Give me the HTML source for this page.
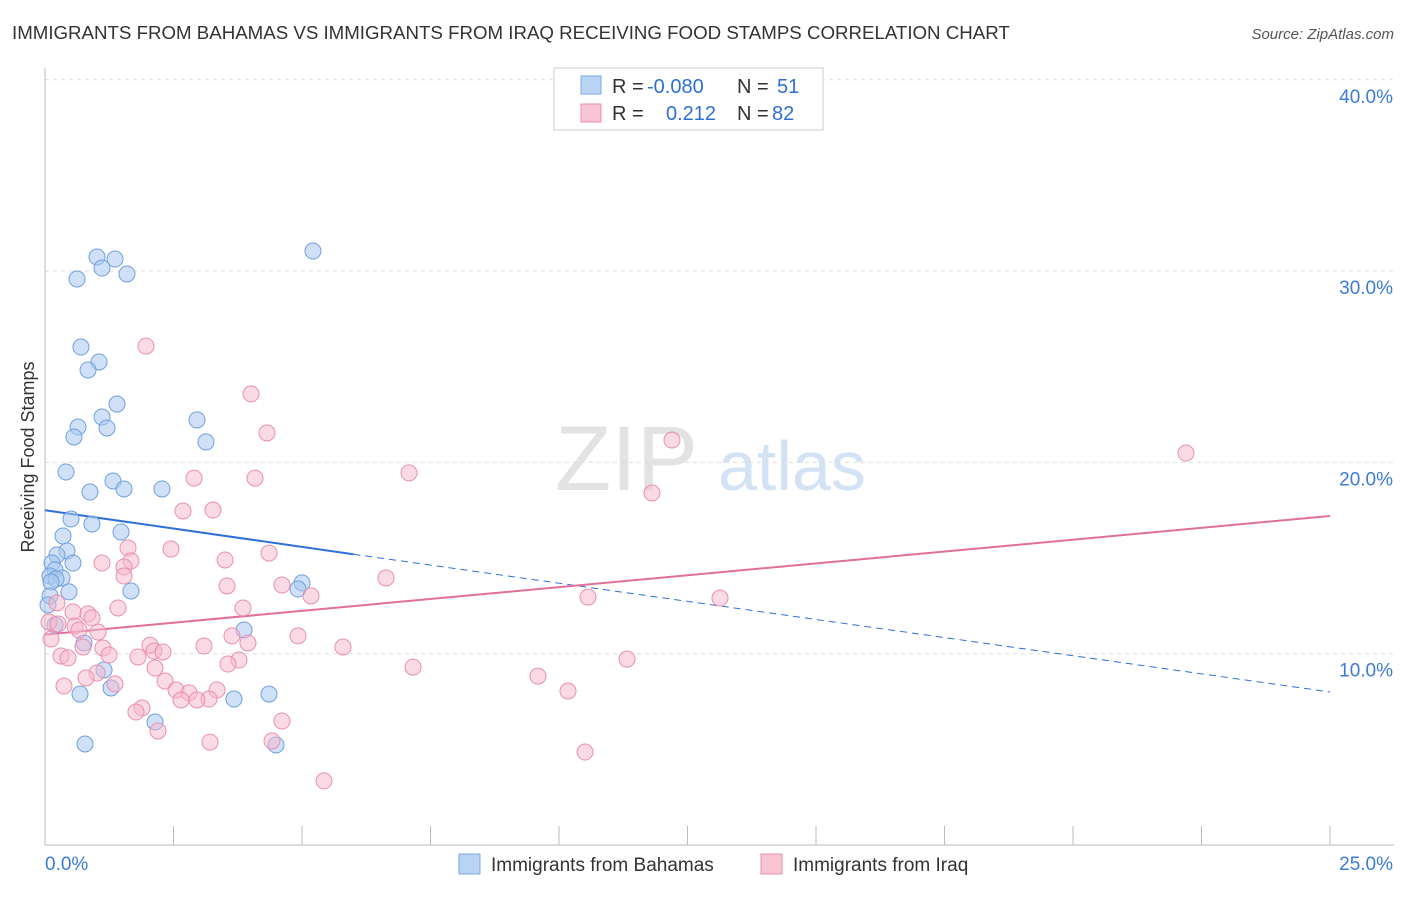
<!DOCTYPE html>
<html><head><meta charset="utf-8"><style>
body{margin:0;background:#fff;font-family:"Liberation Sans",sans-serif;}
svg text{font-family:"Liberation Sans",sans-serif;}
</style></head><body>
<svg id="chart" width="1406" height="892" xmlns="http://www.w3.org/2000/svg">
<text x="12" y="39" font-size="18.7" fill="#333">IMMIGRANTS FROM BAHAMAS VS IMMIGRANTS FROM IRAQ RECEIVING FOOD STAMPS CORRELATION CHART</text>
<text x="1394" y="39" font-size="15" fill="#555" text-anchor="end" font-style="italic">Source: ZipAtlas.com</text>
<text x="555" y="490" font-size="92" fill="#ddd" font-family="Liberation Serif" opacity="0.8">ZIP</text>
<text x="718" y="490" font-size="70" fill="#c9dbf2" opacity="0.8">atlas</text>
<text transform="translate(34,457) rotate(-90)" font-size="18" fill="#333" text-anchor="middle">Receiving Food Stamps</text>
<g id="grid"></g><g id="axes"></g><g id="lines"></g><g id="points"></g>
<g>
<rect x="554" y="68" width="269" height="62" fill="#fff" stroke="#ccc"/>
<rect x="581" y="76" width="20" height="18" fill="#b9d3f5" stroke="#7aaae6"/>
<rect x="581" y="104" width="20" height="18" fill="#f9c5d5" stroke="#ec8fae"/>
<text x="612" y="93" font-size="20" fill="#333">R =</text>
<text x="647" y="93" font-size="20" fill="#2f6fd8">-0.080</text>
<text x="737" y="93" font-size="20" fill="#333">N =</text>
<text x="777" y="93" font-size="20" fill="#2f6fd8">51</text>
<text x="612" y="120" font-size="20" fill="#333">R =</text>
<text x="666" y="120" font-size="20" fill="#2f6fd8">0.212</text>
<text x="737" y="120" font-size="20" fill="#333">N =</text>
<text x="772" y="120" font-size="20" fill="#2f6fd8">82</text>
</g>
<g>
<rect x="459" y="854" width="21" height="20" fill="#b9d3f5" stroke="#7aaae6"/>
<text x="491" y="871" font-size="19" fill="#333">Immigrants from Bahamas</text>
<rect x="761" y="854" width="21" height="20" fill="#f9c5d5" stroke="#ec8fae"/>
<text x="793" y="871" font-size="19" fill="#333">Immigrants from Iraq</text>
</g>
</svg>
<script>
const xTicks=[0,2.5,5,7.5,10,12.5,15,17.5,20,22.5,25];
const yTicks=[10,20,30,40];
const yTickLabels=["10.0%","20.0%","30.0%","40.0%"];
const xEndLabels=["0.0%","25.0%"];
const bahamasPx=[[97,257],[115,259],[102,268],[127,274],[77,279],[313,251],[81,347],[99,362],[88,370],[117,404],[102,417],[197,420],[78,427],[107,428],[74,437],[206,442],[66,472],[113,481],[90,492],[124,489],[162,489],[71,519],[92,524],[121,532],[63,536],[67,551],[57,555],[73,563],[52,563],[55,570],[50,576],[62,578],[56,579],[51,582],[69,592],[131,591],[50,596],[48,605],[55,625],[302,583],[298,589],[244,630],[84,643],[104,670],[111,688],[80,694],[269,694],[234,699],[155,722],[85,744],[276,745]];
const iraqPx=[[146,346],[251,394],[267,433],[672,440],[409,473],[194,478],[255,478],[1186,453],[652,493],[183,511],[213,510],[128,548],[171,549],[225,560],[269,553],[102,563],[131,561],[124,567],[124,576],[386,578],[227,586],[282,585],[311,596],[588,597],[720,598],[57,603],[118,608],[243,608],[73,612],[88,614],[92,618],[49,622],[58,624],[75,626],[79,630],[98,632],[232,636],[298,636],[51,639],[150,645],[204,646],[248,643],[343,647],[103,648],[83,647],[154,651],[163,652],[109,655],[61,656],[68,658],[138,657],[239,660],[228,664],[413,667],[627,659],[155,668],[97,673],[86,678],[165,681],[538,676],[115,684],[64,686],[176,690],[217,690],[189,693],[181,700],[209,699],[197,700],[568,691],[142,708],[136,712],[282,721],[158,731],[210,742],[272,741],[585,752],[324,781]];
const bahamasX=bahamasPx.map(p=>+((p[0]-45)/1285*25).toFixed(3));
const bahamasY=bahamasPx.map(p=>+((845-p[1])/19.13).toFixed(2));
const iraqX=iraqPx.map(p=>+((p[0]-45)/1285*25).toFixed(3));
const iraqY=iraqPx.map(p=>+((845-p[1])/19.13).toFixed(2));
const bahamasTrend=[0,17.5,6.0,15.2,25,8.0];
const iraqTrend=[0,11.0,25,17.2];
const sx=v=>45+v/25*1285, sy=v=>845-v*19.13;
const NS="http://www.w3.org/2000/svg";
function mk(parent,tag,attrs){const e=document.createElementNS(NS,tag);for(const k in attrs)e.setAttribute(k,attrs[k]);document.getElementById(parent).appendChild(e);return e;}
yTicks.forEach((t,i)=>{
 const g=mk('grid','line',{x1:45,x2:1394,y1:sy(t),y2:sy(t),stroke:'#ddd','stroke-dasharray':'4,4'});
 
 
 const l=mk('axes','text',{x:1393,y:sy(t)+23,'font-size':19,fill:'#3d7bd9','text-anchor':'end'});
 l.textContent=yTickLabels[i];
 
 
});
const ya=mk('axes','line',{x1:45,x2:45,y1:68,y2:845,stroke:'#bbb'});


const xa=mk('axes','line',{x1:45,x2:1394,y1:845,y2:845,stroke:'#bbb'});


xTicks.forEach(t=>{
 const e=mk('axes','line',{x1:sx(t),x2:sx(t),y1:826,y2:845,stroke:'#bbb'});
 
 
});
const x0=mk('axes','text',{x:45,y:870,'font-size':19,fill:'#3d7bd9'});x0.textContent=xEndLabels[0];


const x1=mk('axes','text',{x:1393,y:870,'font-size':19,fill:'#3d7bd9','text-anchor':'end'});x1.textContent=xEndLabels[1];


bahamasX.forEach((x,i)=>{
 const c=mk('points','circle',{cx:sx(x),cy:sy(bahamasY[i]),r:8,fill:'#a9c8f0','fill-opacity':0.55,stroke:'#6fa0e0','stroke-width':1});
 
 
});
iraqX.forEach((x,i)=>{
 const c=mk('points','circle',{cx:sx(x),cy:sy(iraqY[i]),r:8,fill:'#f5b8cb','fill-opacity':0.5,stroke:'#ea8fae','stroke-width':1});
 
 
});
const b1=mk('lines','line',{x1:sx(bahamasTrend[0]),y1:sy(bahamasTrend[1]),x2:sx(bahamasTrend[2]),y2:sy(bahamasTrend[3]),stroke:'#2f6fd8','stroke-width':2});


const b2=mk('lines','line',{x1:sx(bahamasTrend[2]),y1:sy(bahamasTrend[3]),x2:sx(bahamasTrend[4]),y2:sy(bahamasTrend[5]),stroke:'#2f6fd8','stroke-width':1,'stroke-dasharray':'7,5'});


const p1=mk('lines','line',{x1:sx(iraqTrend[0]),y1:sy(iraqTrend[1]),x2:sx(iraqTrend[2]),y2:sy(iraqTrend[3]),stroke:'#e0709a','stroke-width':2});


</script>
</body></html>
